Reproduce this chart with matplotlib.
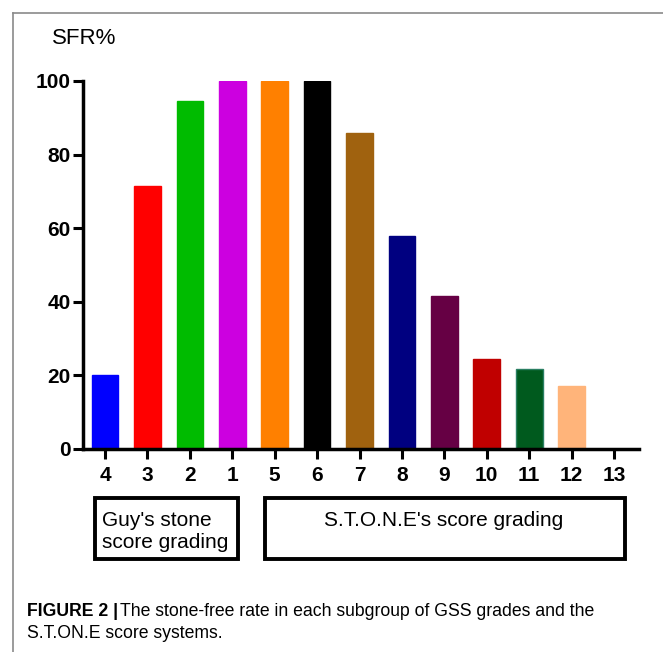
import matplotlib
matplotlib.use("Agg")
import matplotlib.pyplot as plt
from matplotlib.patches import Rectangle
from matplotlib.lines import Line2D

# data
groups = ["4", "3", "2", "1", "5", "6", "7", "8", "9", "10", "11", "12", "13"]
sfr = [20, 71.5, 94.5, 100, 100, 100, 86, 57.8, 41.7, 24.4, 21.8, 17.2, 0]
colors = ["#0000FF", "#FF0000", "#00BB00", "#CC00E0", "#FF8000", "#000000",
          "#A0620F", "#000080", "#660044", "#C00000", "#005A1E", "#FFB47A",
          "#FFFFFF"]
edges = colors[:10] + ["#2A7F62"] + colors[11:]
yticks = [0, 20, 40, 60, 80, 100]

plt.rcParams["font.family"] = ["Liberation Sans", "DejaVu Sans"]

fig = plt.figure(figsize=(6.63, 6.52), dpi=100)
W, H = 663, 652


def fx(px):
    return px / W


def fy(py):
    return 1 - py / H


ax = fig.add_axes([fx(83), fy(449), fx(639) - fx(83), fy(81) - fy(449)])
x = range(len(groups))
ax.bar(x, sfr, width=0.63, color=colors, edgecolor=edges, linewidth=1.0)
ax.set_xlim(-0.52, 12.59)
ax.set_ylim(0, 100)
ax.set_xticks(list(x))
ax.set_xticklabels(groups, fontsize=15, fontweight="bold")
ax.set_yticks(yticks)
ax.set_yticklabels([str(v) for v in yticks], fontsize=15, fontweight="bold")
ax.tick_params(axis="both", length=7, width=2.2, direction="out")
ax.tick_params(axis="x", pad=5)
ax.tick_params(axis="y", pad=2)
for side in ["top", "right"]:
    ax.spines[side].set_visible(False)
for side in ["left", "bottom"]:
    ax.spines[side].set_linewidth(2.5)

fig.text(fx(52), fy(39), "SFR%", fontsize=16, va="center", ha="left")

# grading boxes
for (x0, x1) in [(95, 238), (265, 625)]:
    fig.add_artist(Rectangle((fx(x0), fy(559)), fx(x1) - fx(x0), fy(498) - fy(559),
                             transform=fig.transFigure, fill=False,
                             edgecolor="black", linewidth=2.8))
fig.text(fx(102), fy(531), "Guy's stone\nscore grading", fontsize=15,
         ha="left", va="center", linespacing=1.2)
fig.text(fx(444), fy(521), "S.T.O.N.E's score grading", fontsize=15,
         ha="center", va="center")

# outer frame
fig.add_artist(Line2D([fx(12.5), 1], [fy(12.5), fy(12.5)], transform=fig.transFigure,
                      color="#8a8a8a", linewidth=1.2))
fig.add_artist(Line2D([fx(12.5), fx(12.5)], [fy(12.5), 0], transform=fig.transFigure,
                      color="#8a8a8a", linewidth=1.2))

# caption
cap_font = ["Liberation Sans Narrow", "Liberation Sans", "DejaVu Sans"]
t1 = fig.text(fx(27), fy(611), "FIGURE 2 |", fontsize=12.7, fontweight="bold",
              family=cap_font, va="center", ha="left")
fig.canvas.draw()
bb = t1.get_window_extent()
fig.text(bb.x1 / W + 0.003, fy(611),
         "The stone-free rate in each subgroup of GSS grades and the",
         fontsize=12.7, family=cap_font, va="center", ha="left")
fig.text(fx(27), fy(633), "S.T.ON.E score systems.", fontsize=12.7,
         family=cap_font, va="center", ha="left")

fig.savefig("out.png", dpi=100)
